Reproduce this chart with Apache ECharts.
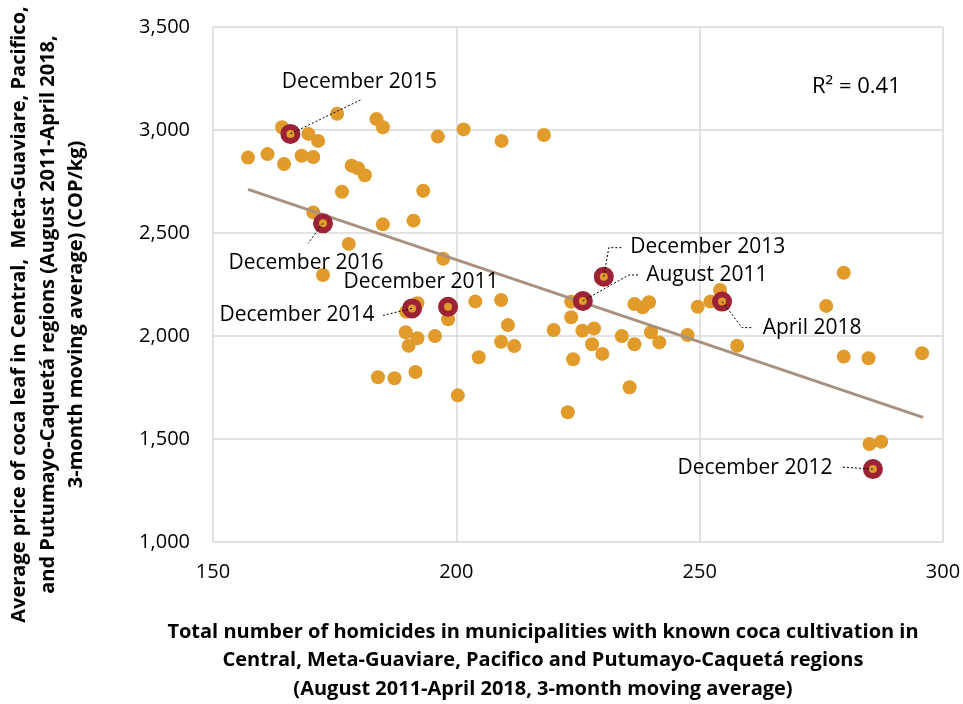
<!DOCTYPE html>
<html>
<head>
<meta charset="utf-8">
<script src="https://cdn.jsdelivr.net/npm/echarts@6/dist/echarts.min.js"></script>
<style>
  html, body { margin: 0; padding: 0; background: #fff; }
  #chart { width: 963px; height: 704px; }
</style>
</head>
<body>
<div id="chart"></div>
<script>
// homicides (x) and coca leaf price (y), one point per month
const homicides = [
  164.2, 169.6, 171.6, 175.5, 183.6, 184.9, 196.2, 201.5, 209.3, 218.0,
  157.2, 161.2, 164.6, 168.2, 170.6, 178.5, 179.8, 181.2, 176.5, 193.2,
  170.6, 184.9, 191.2, 177.9, 197.3, 172.6, 192.0, 189.7, 198.3, 189.6,
  192.0, 190.2, 195.6, 183.9, 187.3, 191.6, 200.3, 203.9, 209.2, 210.6,
  209.2, 211.9, 204.6, 220.0, 223.6, 223.6, 225.9, 228.3, 227.9, 230.0,
  224.0, 222.9, 235.6, 234.0, 236.6, 236.6, 238.3, 239.6, 240.0, 241.7,
  247.5, 249.6, 252.2, 254.2, 257.7, 279.6, 276.0, 279.6, 284.7, 295.7,
  284.9, 287.3
];
const prices = [
  3013, 2981, 2947, 3079, 3053, 3013, 2968, 3003, 2947, 2976,
  2866, 2883, 2835, 2875, 2869, 2827, 2814, 2780, 2700, 2705,
  2600, 2542, 2560, 2447, 2375, 2296, 2159, 2118, 2081, 2018,
  1989, 1953, 2000, 1800, 1795, 1825, 1712, 2168, 2175, 2053,
  1972, 1951, 1897, 2029, 2166, 2091, 2026, 2037, 1960, 1913,
  1887, 1630, 1751, 2000, 1960, 2155, 2139, 2164, 2018, 1969,
  2005, 2142, 2167, 2223, 1953, 2307, 2146, 1900, 1892, 1916,
  1476, 1487
];

// highlighted months
const hlNames = ['December 2015', 'December 2016', 'December 2011', 'December 2014',
  'December 2013', 'August 2011', 'April 2018', 'December 2012'];
const hlHomicides = [165.9, 172.6, 198.3, 190.9, 230.3, 226.0, 254.6, 285.6];
const hlPrices = [2981, 2547, 2142, 2134, 2288, 2170, 2167, 1354];

// linear trend endpoints
const trendX = [157.2, 295.9];
const trendY = [2712, 1605];

const yTicks = [1000, 3500, 500];
const xTicks = [150, 300, 50];

// label offset from its point (px)
const labelShift = {
  'December 2015': [69, -52],
  'December 2016': [-17, 40],
  'December 2011': [-27, -25],
  'December 2014': [-115, 7],
  'December 2013': [104, -30],
  'August 2011': [124, -26],
  'April 2018': [90, 26],
  'December 2012': [-118, -1]
};
// dotted leader line bends, relative to the point (px)
const leaderBends = {
  'December 2015': [[70, -34]],
  'December 2016': [[-15, 20]],
  'December 2014': [[-29, 7]],
  'December 2013': [[5, -29], [19, -29]],
  'August 2011': [[46, -26], [56, -26]],
  'April 2018': [[20, 26], [31, 26]],
  'December 2012': [[-32, -2]]
};

const ORANGE = '#E09B2B';
const RED = '#9B2335';
const FONT = 'Open Sans';

const chart = echarts.init(document.getElementById('chart'));

const allPoints = homicides.map((x, i) => [x, prices[i]])
  .concat(hlHomicides.map((x, i) => [x, hlPrices[i]]));
const hlPoints = hlNames.map((n, i) => ({ name: n, value: [hlHomicides[i], hlPrices[i]] }));

const option = {
  animation: false,
  title: {
    text: 'R\u00b2 = 0.41',
    left: 807,
    top: 71,
    textStyle: { fontFamily: FONT, fontSize: 22, fontWeight: 'normal', color: '#000' }
  },
  grid: { left: 213, right: 20, top: 27, bottom: 162, outerBoundsMode: 'none' },
  xAxis: {
    type: 'value',
    min: xTicks[0], max: xTicks[1], interval: xTicks[2],
    axisLine: { show: false },
    axisTick: { show: false },
    splitLine: { lineStyle: { color: '#d9d9d9', width: 1.5 } },
    axisLabel: { fontFamily: FONT, fontSize: 20, color: '#000', margin: 20 },
    name: 'Total number of homicides in municipalities with known coca cultivation in\nCentral, Meta-Guaviare, Pacifico and Putumayo-Caquetá regions\n(August 2011-April 2018, 3-month moving average)',
    nameLocation: 'middle',
    nameGap: 76,
    nameTextStyle: {
      fontFamily: FONT, fontSize: 20, fontWeight: 'bold', color: '#000',
      lineHeight: 28.5, padding: [0, 70, 0, 0]
    }
  },
  yAxis: {
    type: 'value',
    min: yTicks[0], max: yTicks[1], interval: yTicks[2],
    axisLine: { show: false },
    axisTick: { show: false },
    splitLine: { lineStyle: { color: '#d9d9d9', width: 1.5 } },
    axisLabel: {
      fontFamily: FONT, fontSize: 20, color: '#000', margin: 23,
      formatter: v => v.toLocaleString('en-US')
    },
    name: 'Average price of coca leaf in Central,  Meta-Guaviare, Pacifico,\nand Putumayo-Caquetá regions (August 2011-April 2018,\n3-month moving average) (COP/kg)',
    nameLocation: 'middle',
    nameGap: 122,
    nameTextStyle: {
      fontFamily: FONT, fontSize: 20, fontWeight: 'bold', color: '#000',
      lineHeight: 28.5, padding: [0, 60, 0, 0]
    }
  },
  series: [
    {
      type: 'scatter',
      data: allPoints,
      symbolSize: 14,
      itemStyle: { color: ORANGE, opacity: 1 },
      z: 2
    },
    {
      type: 'line',
      data: trendX.map((x, i) => [x, trendY[i]]),
      showSymbol: false,
      lineStyle: { color: '#A8917F', width: 3 },
      z: 3
    },
    {
      type: 'scatter',
      data: hlPoints,
      symbolSize: 14,
      itemStyle: { color: ORANGE, borderColor: RED, borderWidth: 6, opacity: 1 },
      label: {
        show: true,
        position: 'inside',
        formatter: '{b}',
        fontFamily: FONT,
        fontSize: 21,
        color: '#000'
      },
      labelLayout: function (params) {
        const s = labelShift[hlNames[params.dataIndex]];
        return { dx: s[0], dy: s[1] };
      },
      z: 4
    }
  ]
};

chart.setOption(option);

// dotted leader lines from each highlighted point to its label
const leaders = [];
hlPoints.forEach(p => {
  const bends = leaderBends[p.name];
  if (!bends) return;
  const c = chart.convertToPixel({ gridIndex: 0 }, p.value);
  leaders.push({
    type: 'polyline',
    z: 100,
    silent: true,
    shape: { points: [c].concat(bends.map(b => [c[0] + b[0], c[1] + b[1]])) },
    style: { stroke: '#000', lineWidth: 1, lineDash: [2, 2], fill: null }
  });
});
chart.setOption({ graphic: leaders });
</script>
</body>
</html>
